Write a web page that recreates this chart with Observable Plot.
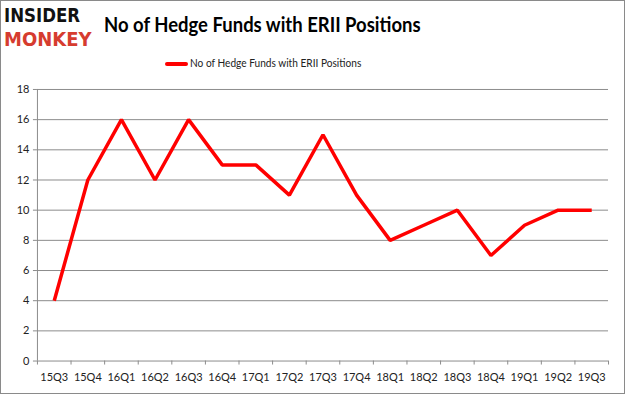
<!DOCTYPE html>
<html>
<head>
<meta charset="utf-8">
<script src="https://cdn.jsdelivr.net/npm/d3@7"></script>
<script src="https://cdn.jsdelivr.net/npm/@observablehq/plot@0.6"></script>
<style>
  html, body { margin: 0; padding: 0; background: #fff; }
  #frame { position: relative; width: 623px; height: 392px; border: 1px solid #8a8a8a; overflow: hidden; font-family: Lato, "Open Sans", sans-serif; }
  #logo { position: absolute; left: 3px; top: 3px; font-family: "DejaVu Sans", sans-serif; font-weight: bold; }
  #logo div { transform-origin: 0 0; white-space: nowrap; font-size: 20px; line-height: 23.5px; height: 23.5px; }
  #logo .a { color: #111; transform: scaleX(0.83); }
  #logo .b { color: #d63c2f; transform: scaleX(0.9); }
  #title { position: absolute; left: 103px; top: 10px; font-size: 21px; font-weight: bold; color: #000; white-space: nowrap; transform-origin: 0 0; transform: scaleX(0.88); }
  #legend { position: absolute; left: 164px; top: 55px; font-size: 11px; color: #222; white-space: nowrap; }
  #legend .sw { display: inline-block; width: 23px; height: 4px; background: #ff0000; vertical-align: middle; margin-right: 2px; border-radius: 2px; }
  #legend .t { display: inline-block; transform-origin: 0 50%; transform: scaleX(0.92); }
  #chart { position: absolute; left: -1px; top: 74px; }
</style>
</head>
<body>
<div id="frame">
  <div id="logo"><div class="a">INSIDER</div><div class="b">MONKEY</div></div>
  <div id="title">No of Hedge Funds with ERII Positions</div>
  <div id="legend"><span class="sw"></span><span class="t">No of Hedge Funds with ERII Positions</span></div>
  <div id="chart"></div>
</div>
<script>
const quarters = ["15Q3","15Q4","16Q1","16Q2","16Q3","16Q4","17Q1","17Q2","17Q3","17Q4","18Q1","18Q2","18Q3","18Q4","19Q1","19Q2","19Q3"];
const funds = [4,12,16,12,16,13,13,11,15,11,8,9,10,7,9,10,10];
const yTicks = [0,2,4,6,8,10,12,14,16,18];

const data = quarters.map((q, i) => ({i, q, v: funds[i]}));
const idx = quarters.map((_, i) => i);
const bounds = d3.range(-0.5, quarters.length, 1);

const plot = Plot.plot({
  width: 625,
  height: 320,
  marginLeft: 37,
  marginRight: 16,
  marginTop: 14,
  marginBottom: 34,
  style: {fontFamily: "Lato, 'Open Sans', sans-serif", fontSize: "11px", color: "#222", background: "transparent"},
  x: {type: "linear", domain: [-0.5, quarters.length - 0.5]},
  y: {domain: [0, 18]},
  marks: [
    Plot.gridY(yTicks, {stroke: "#8c8c8c", strokeOpacity: 1, strokeWidth: 1}),
    Plot.ruleX([-0.5], {stroke: "#8c8c8c"}),
    Plot.axisY({ticks: yTicks, tickSize: 4, tickPadding: 4, stroke: "#8c8c8c", label: null, fill: "#222"}),
    Plot.axisX({ticks: bounds, tickSize: 4, tickFormat: () => "", stroke: "#8c8c8c", label: null}),
    Plot.axisX({ticks: idx, tickSize: 0, tickPadding: 12, tickFormat: i => quarters[i], label: null, fill: "#222"}),
    Plot.line(data, {x: "i", y: "v", stroke: "#ff0000", strokeWidth: 3.5, strokeLinejoin: "miter", strokeLinecap: "butt"})
  ]
});
document.getElementById("chart").appendChild(plot);
</script>
</body>
</html>
